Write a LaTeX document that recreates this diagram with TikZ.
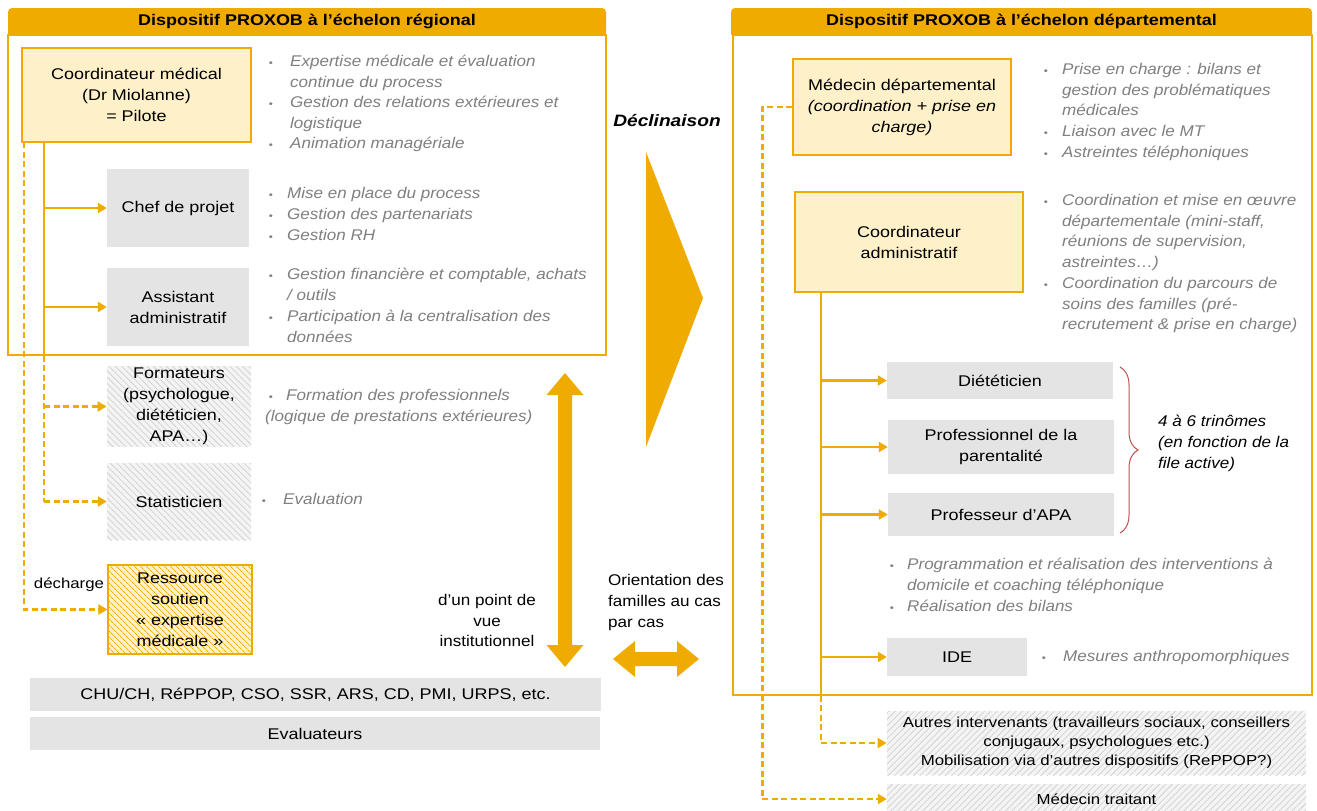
\documentclass[tikz,border=0pt]{standalone}
\usepackage{fontspec}
\setmainfont{Liberation Sans}[FakeStretch=1.16]
\newfontfamily\bulfont{Liberation Sans}[FakeStretch=1.1]
\usetikzlibrary{arrows.meta,patterns.meta,decorations.pathreplacing}
\definecolor{orng}{RGB}{240,171,0}
\definecolor{ylw}{RGB}{254,240,200}
\definecolor{boxgray}{RGB}{228,228,228}
\definecolor{gtxt}{RGB}{127,127,127}
\definecolor{hbg}{RGB}{244,244,244}
\definecolor{hln}{RGB}{210,210,210}
\definecolor{brc}{RGB}{192,80,77}
\newcommand\bitem[5]{\node[bdot] (#1d) at (#2,#4) {•}; \node[bul] (#1) at (#3,#4-14.56) {\strut #5};}
\begin{document}
\begin{tikzpicture}[x=1pt,y=-1pt,
  font=\fontsize{15.5}{21}\selectfont,
  box/.style={inner sep=2pt, align=center, text=black},
  ybox/.style={box, fill=ylw, draw=orng, line width=1.2pt},
  gbox/.style={box, fill=boxgray},
  hbox/.style={box, preaction={fill=hbg}, pattern={Lines[angle=-45,distance=4.5pt,line width=0.8pt]}, pattern color=hln},
  hbox2/.style={box, preaction={fill=hbg}, pattern={Lines[angle=45,distance=4.5pt,line width=0.8pt]}, pattern color=hln},
  obox/.style={box, preaction={fill=ylw}, pattern={Lines[angle=-45,distance=4pt,line width=0.8pt]}, pattern color=orng, draw=orng, line width=1.2pt},
  hdr/.style={fill=orng, rounded corners=4pt, font=\fontsize{15.5}{21}\selectfont\bfseries, text=black, inner sep=0},
  frame/.style={draw=orng, line width=1.2pt, inner sep=0},
  bul/.style={text=gtxt, font=\bulfont\fontsize{15.5}{20.8}\selectfont\itshape, anchor=north west, align=left, inner sep=0},
  bdot/.style={text=gtxt, anchor=base, inner sep=0, font=\fontsize{10}{10}\selectfont},
  plain/.style={align=center, inner sep=0, text=black},
  conn/.style={draw=orng, line width=2.4pt},
  arr/.style={conn, -{Triangle[length=9pt,width=10pt]}},
  dsh/.style={dash pattern=on 6pt off 3.5pt},
  bigarrow/.style={fill=orng, draw=none}
]
\useasboundingbox (0,0) rectangle (1317,811);

% ---------------- left: regional ----------------
\fill[orng] (8,22) rectangle (606,35);
\node[hdr, minimum width=598, minimum height=27] (hl) at (307,21.5) {Dispositif PROXOB à l’échelon régional};
\node[frame, minimum width=598, minimum height=320] (lf) at (307,195) {};

\node[ybox, minimum width=229, minimum height=94] (cm) at (136.5,95) {Coordinateur médical\\(Dr Miolanne)\\= Pilote};
\bitem{b1}{271}{290}{66}{Expertise médicale et évaluation\\continue du process}
\bitem{b2}{271}{290}{107}{Gestion des relations extérieures et\\logistique}
\bitem{b3}{271}{290}{148}{Animation managériale}

\node[gbox, minimum width=142, minimum height=78] (chef) at (178,208) {Chef de projet};
\bitem{b4}{271}{287}{198}{Mise en place du process}
\bitem{b5}{271}{287}{219}{Gestion des partenariats}
\bitem{b6}{271}{287}{240}{Gestion RH}

\node[gbox, minimum width=142, minimum height=78] (assi) at (178,307) {Assistant\\administratif};
\bitem{b7}{271}{287}{279}{Gestion financière et comptable, achats\\/ outils}
\bitem{b8}{271}{287}{321}{Participation à la centralisation des\\données}

\node[hbox, minimum width=144, minimum height=77] (form) at (179,406.5) {Formateurs\\(psychologue,\\diététicien,\\APA…)};
\node[bdot] (b9d) at (271,400) {•};
\node[bul] (b9) at (265,400-14.56) {\strut\hspace*{21pt}Formation des professionnels\\(logique de prestations extérieures)};

\node[hbox, minimum width=144, minimum height=77] (stat) at (179,501.5) {Statisticien};
\bitem{b10}{264}{283}{504}{Evaluation}

\node[obox, minimum width=144, minimum height=89] (res) at (180,609.5) {Ressource\\soutien\\« expertise\\médicale »};

\coordinate (lt) at (44,142);
\coordinate (ld) at (24,142);
\draw[conn] (lt) -- (lt |- lf.south);
\draw[arr] (lt |- chef.west) -- (chef.west);
\draw[arr] (lt |- assi.west) -- (assi.west);
\draw[conn,dsh] (lt |- lf.south) -- (lt |- stat.west);
\draw[arr,dsh] (lt |- form.west) -- (form.west);
\draw[arr,dsh] (lt |- stat.west) -- (stat.west);
\draw[arr,dsh] (ld) |- (res.west);
\node[plain, font=\fontsize{14.5}{20}\selectfont] (dech) at (69,585) {décharge};

\node[gbox, minimum width=571, minimum height=33] (chu) at (315.5,694.5) {CHU/CH, RéPPOP, CSO, SSR, ARS, CD, PMI, URPS, etc.};
\node[gbox, minimum width=570, minimum height=33] (eval) at (315,733.5) {Evaluateurs};

% vertical double arrow
\fill[bigarrow] (565,373) -- (583.5,395) -- (572,395) -- (572,645) -- (583.5,645) -- (565,667) -- (546.5,645) -- (558,645) -- (558,395) -- (546.5,395) -- cycle;
\node[plain, font=\bulfont\fontsize{15.5}{20.5}\selectfont] (inst) at (487,620.5) {d’un point de\\vue\\institutionnel};

% Declinaison
\node[plain, font=\fontsize{16.5}{21}\selectfont\bfseries\itshape] (decl) at (667,121) {Déclinaison};
\fill[bigarrow] (646,152) -- (703,298) -- (646,447) -- cycle;

\node[plain, anchor=north west, align=left, font=\bulfont\fontsize{15.5}{21}\selectfont] (orient) at (608,585-14.7) {\strut Orientation des\\familles au cas\\par cas};
\fill[bigarrow] (613,659) -- (635,641) -- (635,652) -- (677,652) -- (677,641) -- (699,659) -- (677,677) -- (677,666) -- (635,666) -- (635,677) -- cycle;

% ---------------- right: departemental ----------------
\fill[orng] (731,22) rectangle (1312,35);
\node[hdr, minimum width=581, minimum height=27] (hr) at (1021.5,21.5) {Dispositif PROXOB à l’échelon départemental};
\node[frame, minimum width=579, minimum height=660] (rf) at (1022.5,365) {};

\node[ybox, minimum width=218, minimum height=96] (mdep) at (902,107) {Médecin départemental\\\textit{(coordination + prise en}\\\textit{charge)}};
\bitem{c1}{1046}{1062}{74}{Prise en charge : bilans et\\gestion des problématiques\\médicales}
\bitem{c2}{1046}{1062}{136}{Liaison avec le MT}
\bitem{c3}{1046}{1062}{157}{Astreintes téléphoniques}

\node[ybox, minimum width=228, minimum height=100] (ca) at (909,242) {Coordinateur\\administratif};
\bitem{c4}{1046}{1062}{205}{Coordination et mise en œuvre\\départementale (mini-staff,\\réunions de supervision,\\astreintes…)}
\bitem{c5}{1046}{1062}{288}{Coordination du parcours de\\soins des familles (pré-\\recrutement \& prise en charge)}

\node[gbox, minimum width=226, minimum height=37] (diet) at (1000,380.5) {Diététicien};
\node[gbox, minimum width=226, minimum height=54] (prof) at (1001,447) {Professionnel de la\\parentalité};
\node[gbox, minimum width=226, minimum height=43] (apa) at (1001,514.5) {Professeur d’APA};
\draw[brc, line width=1pt, decorate, decoration={brace, amplitude=18pt}] (1120,367) -- (1120,533) coordinate[midway] (brm);
\node[plain, anchor=north west, align=left, font=\bulfont\fontsize{15.5}{21}\selectfont\itshape] (trin) at (1158,426-14.7) {\strut 4 à 6 trinômes\\(en fonction de la\\file active)};

\bitem{c6}{892}{907}{569}{Programmation et réalisation des interventions à\\domicile et coaching téléphonique}
\bitem{c7}{892}{907}{611}{Réalisation des bilans}

\node[gbox, minimum width=140, minimum height=38] (ide) at (957,657) {IDE};
\bitem{c8}{1044}{1063}{661}{Mesures anthropomorphiques}

\node[hbox2, minimum width=419, minimum height=64, font=\fontsize{14.5}{19}\selectfont] (autr) at (1096.5,743) {Autres intervenants (travailleurs sociaux, conseillers\\conjugaux, psychologues etc.)\\Mobilisation via d’autres dispositifs (RePPOP?)};
\node[hbox2, minimum width=419, minimum height=30, font=\fontsize{14.5}{19}\selectfont] (trait) at (1096.5,799) {Médecin traitant};

\coordinate (tr) at (821,292);
\draw[conn] (tr) -- (tr |- rf.south);
\draw[arr] (tr |- diet.west) -- (diet.west);
\draw[arr] (tr |- prof.west) -- (prof.west);
\draw[arr] (tr |- apa.west) -- (apa.west);
\draw[arr] (tr |- ide.west) -- (ide.west);
\draw[arr,dsh] (tr |- rf.south) |- (autr.west);
\draw[arr,dsh] (mdep.west) -- ++(-30,0) |- (trait.west);
\end{tikzpicture}
\end{document}
